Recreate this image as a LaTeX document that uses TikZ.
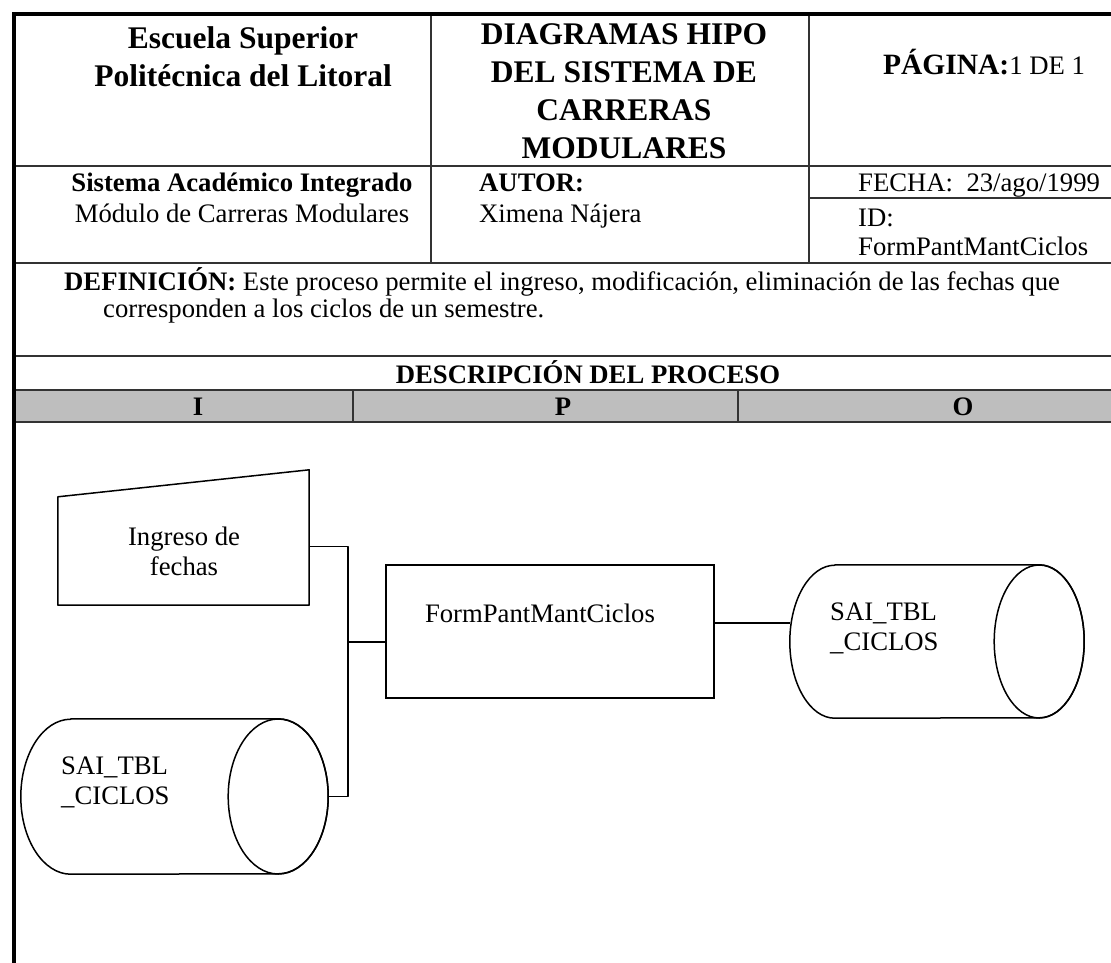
\documentclass[tikz,border=0pt]{standalone}
\usepackage{fontspec}
\setmainfont{Liberation Serif}
\definecolor{HIPOgray}{HTML}{BEBEBE}
\definecolor{HIPOrule}{HTML}{333333}
\usetikzlibrary{calc,positioning}
\newcommand{\bodyfs}{\fontsize{26.7}{30}\selectfont}
\newcommand{\headfs}{\fontsize{31.5}{38}\selectfont}

\begin{document}
\begin{tikzpicture}[x=1pt, y=-1pt,
            rule/.style={HIPOrule, line width=1.5pt},
            frame/.style={black, line width=4.5pt, line join=miter},
            txt/.style={inner sep=0pt, font=\bodyfs, text height=18pt, text depth=5pt},
            mtxt/.style={inner sep=0pt, font=\bodyfs},
            hdr/.style={inner sep=0pt, font=\headfs\bfseries, align=center},
            area/.style={inner sep=0pt},
            procbox/.style={draw, line width=1.5pt, inner sep=0pt, minimum width=328pt, minimum height=133pt},
            wire/.style={line width=1.5pt, line join=round}]
        \useasboundingbox (0,0) rectangle (1111,963);
        % header table
        \fill[HIPOgray] (14,390) rectangle (1160,422);
        \draw[rule] (14,166) -- (1160,166) (809,198) -- (1160,198) (14,263) -- (1160,263)
                    (14,356) -- (1160,356) (14,390) -- (1160,390) (14,422) -- (1160,422);
        \draw[rule] (431,14) -- (431,263) (809,14) -- (809,263)
                    (353,390) -- (353,422) (738,390) -- (738,422);
        \draw[frame] (14,990) -- (14,14) -- (1170,14);
        \node[hdr] (school) at (243,57) {Escuela Superior\\Polit\'ecnica del Litoral};
        \node[hdr] (title) at (624,91) {DIAGRAMAS HIPO\\DEL SISTEMA DE\\CARRERAS\\MODULARES};
        \node[txt] (page) at (984,68) {\fontsize{29.5}{34}\selectfont\textbf{PÁGINA:}\bodyfs 1 DE 1};
        \node[txt, font=\bodyfs\bfseries] (sys) at (242,185) {Sistema Académico Integrado};
        \node[txt] (mod) at (242,216) {Módulo de Carreras Modulares};
        \node[txt, anchor=west, font=\bodyfs\bfseries] (autor) at (479,185) {AUTOR:};
        \node[txt, anchor=west] (name) at (479,216) {Ximena Nájera};
        \node[txt, anchor=west] (fecha) at (858,185) {FECHA:\ \ 23/ago/1999};
        \node[txt, anchor=west] (idlbl) at (858,220) {ID:};
        \node[txt, anchor=west] (idval) at (858,249) {FormPantMantCiclos};
        \node[txt, anchor=west] (def1) at (64,284) {\textbf{DEFINICIÓN:} Este proceso permite el ingreso, modificación, eliminación de las fechas que};
        \node[txt, anchor=west] (def2) at (103,311) {corresponden a los ciclos de un semestre.};
        \node[txt, font=\bodyfs\bfseries] (desc) at (588,377) {DESCRIPCIÓN DEL PROCESO};
        \node[txt, font=\bodyfs\bfseries] (colI) at (198,409) {I};
        \node[txt, font=\bodyfs\bfseries] (colP) at (563,409) {P};
        \node[txt, font=\bodyfs\bfseries] (colO) at (963,409) {O};
        % HIPO diagram
        \node[area, minimum width=251pt, minimum height=135pt] (inp) at (183.5,537.5) {};
        \draw[wire] (inp.south west) -- (inp.south east) -- (inp.north east)
                    -- ($(inp.north west)+(0,27)$) -- cycle;
        \node[mtxt, align=center] (inpT) at (184,551) {Ingreso de\\fechas};
        \node[procbox] (proc) at (550,631.5) {};
        \node[txt] (procT) at (540,616) {FormPantMantCiclos};
        % output store
        \node[area, minimum width=294pt, minimum height=153pt] (dbout) at (937,641.5) {};
        \draw[wire] ($(dbout.north west)+(45,0)$) -- ($(dbout.north east)+(-45,0)$)
                    arc(90:-90:45pt and 76.5pt) -- ($(dbout.south west)+(45,0)$)
                    arc(270:90:45pt and 76.5pt) -- cycle;
        \draw[wire] ($(dbout.east)+(-45,0)$) ellipse (45pt and 76.5pt);
        \node[mtxt, anchor=west, align=left] (dboutT) at (830,628) {SAI\_TBL\\\_CICLOS};
        % input store
        \node[area, minimum width=307pt, minimum height=155pt] (dbin) at (174.5,796.5) {};
        \draw[wire] ($(dbin.north west)+(50,0)$) -- ($(dbin.north east)+(-50,0)$)
                    arc(90:-90:50pt and 77.5pt) -- ($(dbin.south west)+(50,0)$)
                    arc(270:90:50pt and 77.5pt) -- cycle;
        \draw[wire] ($(dbin.east)+(-50,0)$) ellipse (50pt and 77.5pt);
        \node[mtxt, anchor=west, align=left] (dbinT) at (61,782) {SAI\_TBL\\\_CICLOS};
        % connectors
        \coordinate (bus) at (348,642);
        \draw[wire] ($(inp.east)+(0,9)$) -| (bus) -- ($(proc.west)+(0,10.5)$);
        \draw[wire] (dbin.east) -| (bus);
        \coordinate (pout) at ($(proc.east)+(0,-8.5)$);
        \draw[wire] (pout) -- (pout -| dbout.west);
      \end{tikzpicture}
\end{document}
